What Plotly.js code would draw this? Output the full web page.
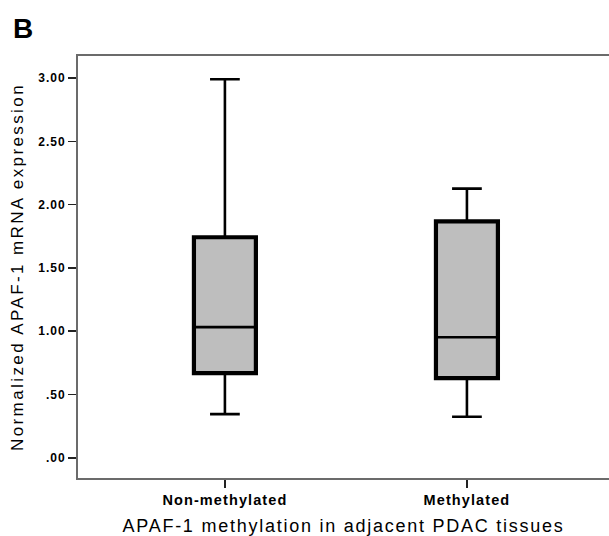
<!DOCTYPE html>
<html>
<head>
<meta charset="utf-8">
<script src="https://cdn.plot.ly/plotly-3.0.1.min.js"></script>
<style>
  html, body { margin: 0; padding: 0; background: #fff; }
  #chart { width: 609px; height: 536px; }
  .xtick text { letter-spacing: 1.1px; }
  .ytick text { letter-spacing: 1px; }
  .g-xtitle text { letter-spacing: 1.75px; }
  .g-ytitle text { letter-spacing: 2.4px; }
</style>
</head>
<body>
<div id="chart"></div>
<script>
// Data
const categories = ['Non-methylated', 'Methylated'];
const lowerWhisker = [0.345, 0.324];
const q1Values = [0.669, 0.629];
const medianValues = [1.032, 0.952];
const q3Values = [1.742, 1.868];
const upperWhisker = [2.99, 2.126];
const yTickValues = [0, 0.5, 1, 1.5, 2, 2.5, 3];
const yTickLabels = ['.00', '.50', '1.00', '1.50', '2.00', '2.50', '3.00'];

const boxWidth = 0.256;
const font = 'Liberation Sans, Arial, Helvetica, sans-serif';

const trace = {
  type: 'box',
  x: categories,
  q1: q1Values,
  median: medianValues,
  q3: q3Values,
  lowerfence: lowerWhisker,
  upperfence: upperWhisker,
  width: boxWidth,
  whiskerwidth: 0.48,
  fillcolor: '#bebebe',
  line: { color: '#000000', width: 2.6 },
  boxpoints: false,
  hoverinfo: 'skip',
  showlegend: false
};

// Thicker outline over each box body, built from the quartile arrays
const shapes = categories.map((c, i) => ({
  type: 'rect', xref: 'x', yref: 'y',
  x0: i - boxWidth / 2, x1: i + boxWidth / 2,
  y0: q1Values[i], y1: q3Values[i],
  line: { color: '#000000', width: 4.2 },
  fillcolor: 'rgba(0,0,0,0)',
  layer: 'above'
}));

const layout = {
  width: 609,
  height: 536,
  margin: { l: 78, r: 0, t: 56, b: 58 },
  paper_bgcolor: '#ffffff',
  plot_bgcolor: '#ffffff',
  font: { family: font, color: '#000000' },
  showlegend: false,
  xaxis: {
    type: 'category',
    range: [-0.607, 1.587],
    showline: true,
    mirror: true,
    linecolor: '#6b6b6b',
    linewidth: 2,
    showgrid: false,
    zeroline: false,
    ticks: 'outside',
    ticklen: 8,
    tickwidth: 1.5,
    tickcolor: '#222222',
    tickfont: { family: font, size: 14.5, weight: 'bold', color: '#000000' },
    automargin: false,
    title: {
      text: 'APAF-1 methylation in adjacent PDAC tissues',
      font: { family: font, size: 18, color: '#000000' },
      standoff: 13
    }
  },
  yaxis: {
    range: [-0.16, 3.174],
    showline: true,
    linecolor: '#6b6b6b',
    linewidth: 2,
    showgrid: false,
    zeroline: false,
    ticks: 'outside',
    ticklen: 8,
    tickwidth: 1.5,
    tickcolor: '#222222',
    tickmode: 'array',
    tickvals: yTickValues,
    ticktext: yTickLabels,
    tickfont: { family: font, size: 12, weight: 'bold', color: '#000000' },
    automargin: false,
    title: {
      text: 'Normalized APAF-1 mRNA expression',
      font: { family: font, size: 17, color: '#000000' },
      standoff: 10
    }
  },
  shapes: shapes,
  annotations: [{
    text: 'B',
    xref: 'paper', yref: 'paper',
    x: -0.126, y: 1.065,
    xanchor: 'left', yanchor: 'middle',
    showarrow: false,
    font: { family: font, size: 28, weight: 'bold', color: '#000000' }
  }]
};

Plotly.newPlot('chart', [trace], layout, { displayModeBar: false, staticPlot: true });
</script>
</body>
</html>
